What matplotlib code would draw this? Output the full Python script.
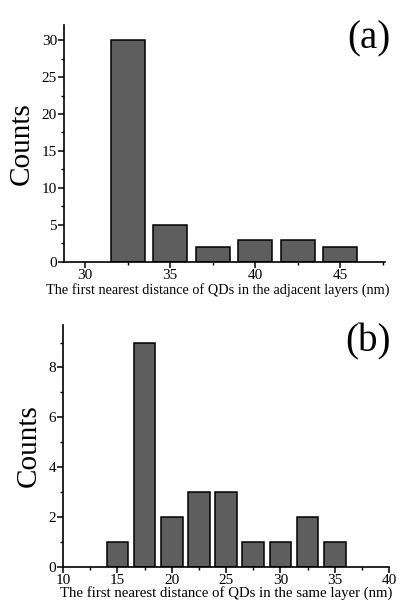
import matplotlib.pyplot as plt
from matplotlib.ticker import MultipleLocator

plt.rcParams['font.family'] = ['Liberation Serif', 'DejaVu Serif']

# (a) adjacent layers
dist_a = [32.5, 35, 37.5, 40, 42.5, 45]
counts_a = [30, 5, 2, 3, 3, 2]
# (b) same layer
dist_b = [15, 17.5, 20, 22.5, 25, 27.5, 30, 32.5, 35]
counts_b = [1, 9, 2, 3, 3, 1, 1, 2, 1]

xlabel_a = 'The first nearest distance of QDs in the adjacent layers (nm)'
xlabel_b = 'The first nearest distance of QDs in the same layer (nm)'

fig = plt.figure(figsize=(3.97, 6.02), dpi=100)
ax1 = fig.add_axes([0.161, 0.565, 0.808, 0.393])
ax2 = fig.add_axes([0.159, 0.058, 0.821, 0.402])


def style(ax, xmaj, ymaj):
    ax.spines['top'].set_visible(False)
    ax.spines['right'].set_visible(False)
    ax.spines['left'].set_linewidth(1.2)
    ax.spines['bottom'].set_linewidth(1.2)
    ax.xaxis.set_major_locator(MultipleLocator(xmaj))
    ax.xaxis.set_minor_locator(MultipleLocator(xmaj / 2))
    ax.yaxis.set_major_locator(MultipleLocator(ymaj))
    ax.yaxis.set_minor_locator(MultipleLocator(ymaj / 2))
    ax.tick_params(which='major', direction='out', length=4, width=1.1,
                   labelsize=11, pad=1)
    ax.tick_params(which='minor', direction='out', length=2.5, width=1.0)


ax1.bar(dist_a, counts_a, width=2.0, color='#5e5e5e', edgecolor='black', linewidth=1.1)
ax1.set_xlim(28.75, 47.6)
ax1.set_ylim(0, 32)
style(ax1, 5, 5)
ax1.set_xlabel(xlabel_a, fontsize=10.3)
ax1.xaxis.set_label_coords(0.48, -0.088)
ax1.set_ylabel('Counts', fontsize=21)
ax1.yaxis.set_label_coords(-0.09, 0.5)
fig.text(0.983, 0.935, '(a)', fontsize=28, ha='right', va='center')

ax2.bar(dist_b, counts_b, width=2.0, color='#5e5e5e', edgecolor='black', linewidth=1.1)
ax2.set_xlim(10, 40)
ax2.set_ylim(0, 9.7)
style(ax2, 5, 2)
ax2.set_xlabel(xlabel_b, fontsize=10.6, labelpad=-1)
ax2.set_ylabel('Counts', fontsize=21)
ax2.yaxis.set_label_coords(-0.065, 0.5)
fig.text(0.985, 0.432, '(b)', fontsize=28, ha='right', va='center')

fig.savefig('out.png', dpi=100)
